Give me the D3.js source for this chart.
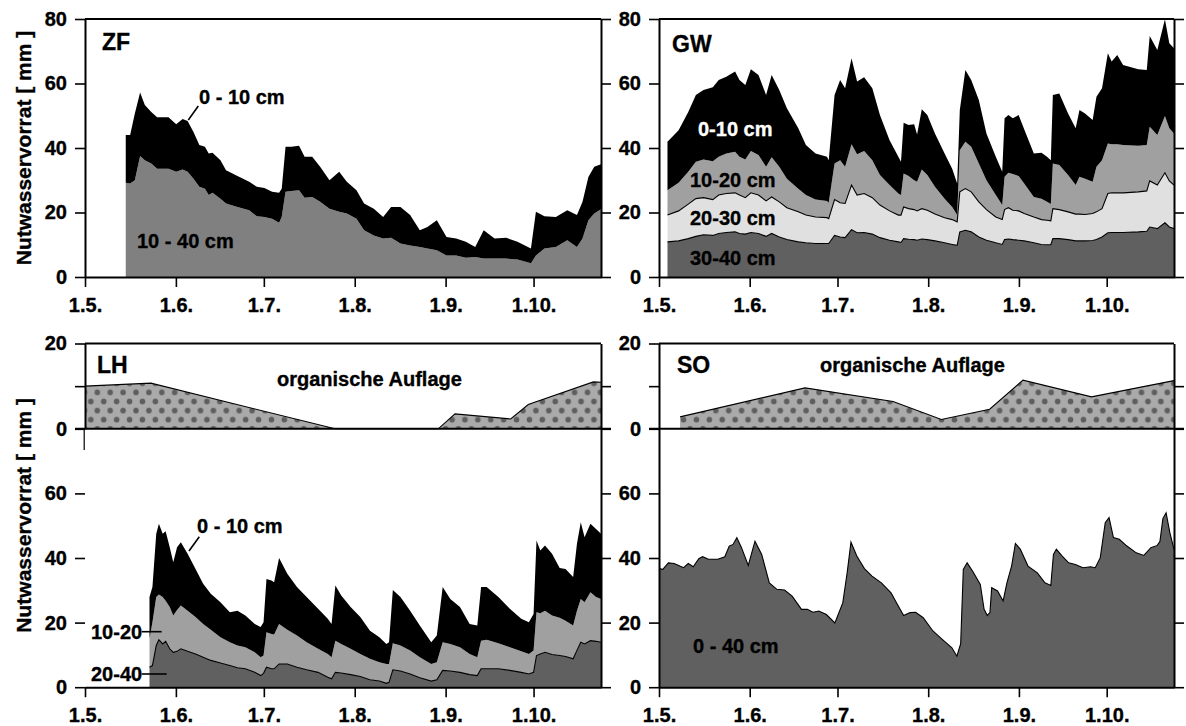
<!DOCTYPE html>
<html>
<head>
<meta charset="utf-8">
<script src="https://cdn.jsdelivr.net/npm/d3@7"></script>
<style>
  body { margin: 0; background: #fff; }
  text { font-family: "Liberation Sans", Arial, Helvetica, sans-serif; font-weight: bold; fill: #000;
         stroke: #000; stroke-width: 0.35px; paint-order: stroke; }
  text.white { fill: #fff; stroke: #fff; }
  .axis text { font-size: 20px; }
  .axis path, .axis line { stroke: #000; }
  .axis path { stroke-width: 2; }
  .axis line { stroke-width: 1.6; }
</style>
</head>
<body>
<div id="chart"></div>
<script>
// ==============================
// Data (days after 1 May, storage in mm, cumulative from the deepest layer)
// ==============================

// --- ZF ---
const zfDays = [13.9, 15.4, 17, 18.8, 20.4, 22.6, 24.6, 28.5, 31.1, 33.3, 35, 37, 39, 40.9, 42.2, 43.5, 46.2, 48.1, 52, 56,
  58.6, 61.2, 63.8, 66.2, 67.1, 68.4, 70.4, 73, 74.9, 77.5, 80.2, 83.4, 86.7, 89.3, 92.6, 95.2, 98.5, 101.7, 104.4, 107.6,
  110.9, 114.2, 116.8, 120, 123.3, 126.6, 129.9, 133.1, 136, 139.7, 143.6, 147.5, 152.1, 153.8, 156.7, 160.6, 164.5, 167.8, 169.7, 171.7,
  173.7, 176];
const zf0_40 = [44, 44, 50.7, 57.2, 53.3, 51.2, 49.5, 49.5, 47.4, 49, 48.4, 45, 40.9, 40.4, 38.3, 38.5, 36.2, 33.1, 31.3, 29.5,
  28, 27.6, 26.4, 26.1, 27.4, 40.4, 40.4, 40.7, 37.3, 37.3, 34.2, 30, 32.6, 29.5, 26.9, 22.8, 21.2, 18.6, 21.7, 21.7,
  19.2, 14.5, 15.5, 17.6, 12.4, 11.9, 10.9, 9.3, 14.5, 11.9, 12.2, 10.9, 8.8, 20.2, 18.8, 18.6, 20.7, 19.2, 23.3, 31,
  34.2, 35];
const zf10_40 = [29.2, 29, 30, 37.5, 36.2, 35.2, 33.6, 33.6, 32.6, 33.3, 32.6, 30.5, 28, 27.4, 25.4, 26.1, 24.3, 22.8, 21.7, 20.7,
  18.8, 18.6, 18.1, 16.8, 18.6, 26.4, 26.7, 26.9, 24.6, 24.8, 23.3, 21.2, 20.2, 19.7, 18.1, 14.5, 12.9, 11.9, 12.2, 10.4,
  9.8, 9.3, 8.8, 8.3, 6.7, 6.7, 6, 6.2, 5.7, 5.7, 5.7, 5.4, 4.3, 6.7, 8.8, 9.3, 11.4, 9.3, 11.9, 17.6,
  19.7, 21];

// --- GW ---
const gwDays = [2.9, 6.7, 10, 12.6, 15.2, 18.4, 20.4, 23, 26, 27.5, 29.5, 31.4, 34, 36.6, 38.5, 41.1, 43.7, 47.6, 50.2, 53.5,
  57.4, 58, 60, 61.9, 63.6, 65.8, 67.7, 70.1, 72.9, 75.5, 78.8, 81.8, 82.7, 83.6, 85.3, 87.2, 88.2, 89.8, 91.7, 94.3,
  97.6, 100.2, 101.9, 102.8, 104.7, 106.7, 109.3, 111.9, 115.1, 117.3, 118.1, 119.4, 120.9, 122.9, 124.8, 128.1, 130.7, 132.6, 133.9, 134.6,
  136.8, 139.8, 142.4, 143.7, 145.6, 148.2, 149.5, 151.4, 153.4, 154.7, 156.6, 158.6, 163.8, 166.7, 167.7, 170.3, 172.9, 174.4, 176];
const gw0_40 = [41.9, 45.5, 51.2, 56.4, 58, 58.8, 61.1, 62.1, 63.7, 61.1, 59.5, 64.4, 62.6, 56.4, 62.6, 58, 52.3, 46.1, 40.9, 38.3,
  37.3, 36.2, 56.4, 61.1, 58.5, 67.8, 60.6, 61.9, 58.5, 50.2, 42.4, 37.3, 35.7, 47.8, 47.1, 47.4, 44.2, 52, 50.2, 44.5,
  38.3, 33.6, 29, 51.8, 64.2, 61.1, 54.9, 44.5, 37.3, 32.6, 49.2, 50.2, 49.2, 50.2, 45.8, 38.3, 38.5, 37.3, 36.2, 56.4,
  56.9, 50.7, 46.1, 51.8, 50.7, 48.7, 55.9, 58.5, 69.4, 66.8, 68.8, 65.7, 64.4, 64.2, 74.7, 70.4, 79.9, 72.5, 70.9];
const gw10_40 = [26.9, 29.2, 32.6, 35.7, 36.4, 35.9, 37.3, 38.3, 38.8, 37.3, 36.4, 39.1, 37.8, 34.2, 37.1, 34.2, 30.5, 27.4, 25.4, 24,
  23.6, 23, 35.2, 36.2, 34.2, 41.2, 38.1, 39.1, 36.2, 31.6, 28.5, 25.9, 25.4, 32.1, 31.3, 30, 29.5, 33.3, 31.6, 28,
  24.3, 21.7, 19.2, 39.3, 41.9, 40.4, 35.2, 30, 25.4, 22.3, 31.1, 32.3, 31.9, 31.3, 29, 24.8, 24.3, 23.3, 22.6, 35.2,
  34.7, 31.6, 28.5, 31.1, 30.5, 29.5, 34.2, 36.2, 41.4, 41.2, 41.2, 40.9, 40.7, 40.9, 46.6, 44, 49.9, 46.1, 44.5];
const gw20_40 = [19.2, 20.5, 22.6, 24.3, 24.6, 24, 25.4, 25.9, 26.1, 25.4, 24.6, 26.1, 25.4, 23.6, 24.8, 23.3, 21.5, 20.2, 19.2, 18.6,
  18.4, 18.1, 24, 23, 22.8, 28.5, 25.4, 25.9, 24.6, 22.3, 20.5, 19.2, 19.2, 21.7, 21.2, 20.9, 20.5, 21.2, 20.7, 19.5,
  18.4, 17.8, 17.1, 26.4, 27.4, 26.4, 23.3, 20.9, 18.6, 17.8, 20.9, 21.5, 20.7, 20.5, 19.7, 18.6, 17.8, 17.6, 17.4, 21.2,
  20.9, 20.2, 19.5, 19.5, 19.4, 19.7, 20.2, 21.2, 25.9, 26.1, 26.1, 26.1, 26.4, 26.7, 29.8, 28.5, 32.3, 29.8, 28.5];
const gw30_40 = [10.9, 11.2, 11.9, 12.6, 13.1, 12.9, 13.5, 13.8, 14, 13.5, 13.3, 13.8, 13.5, 12.6, 13.5, 12.4, 11.6, 10.9, 10.6, 10.4,
  10.4, 10.4, 12.9, 12.4, 12.2, 14.7, 13.7, 13.8, 13.3, 12.2, 11.4, 10.9, 10.7, 11.9, 11.7, 11.6, 11.4, 11.8, 11.6, 11.2,
  10.6, 10.1, 9.8, 14, 14.5, 14, 12.4, 11.4, 10.6, 10.1, 11.6, 11.8, 11.6, 11.4, 11.2, 10.6, 10.1, 10, 10, 11.9,
  11.9, 11.6, 11.2, 11.2, 11.2, 11.3, 11.6, 12.4, 13.7, 13.8, 13.8, 13.8, 14, 14.2, 15.5, 15, 16.8, 15.5, 15];

// --- LH ---
const lhDays = [22, 23, 24.3, 25.2, 26.5, 27.5, 28.9, 30.1, 31.4, 32.7, 35, 37.7, 40.3, 42.9, 46.2, 49.4, 52, 54.7, 57.9, 59.9,
  60.9, 61.9, 63.6, 64.5, 66.2, 69, 72.3, 75.6, 79.5, 82.8, 84.1, 85.4, 87.4, 90.6, 93.9, 97.2, 100.4, 102.8, 103.7, 105,
  107.6, 110.9, 114.2, 118.1, 120, 122, 124.6, 127.9, 131.2, 133.8, 135.1, 137, 141, 144.9, 148.8, 151.4, 153, 154, 155.3, 156.9,
  159.3, 161.9, 163.9, 166.5, 167.8, 169.1, 170.4, 172.4, 174.3, 176];
const lh0_40 = [27.9, 31, 47.5, 50.6, 47.5, 48.3, 43.3, 38.7, 43.3, 44.9, 41.3, 36.6, 32, 28.9, 26.3, 23.2, 23.7, 22.2, 19.6, 18.6,
  20.1, 33.5, 33, 32.5, 40, 35.1, 31, 27.9, 24.3, 21.2, 19.6, 31.5, 28.4, 24.8, 21.7, 17.5, 15.5, 13.4, 13.9, 30.1,
  27.9, 23.7, 19.1, 13.9, 16, 31, 27.3, 24.8, 19.6, 19.1, 31, 31, 27.9, 24.3, 21.2, 20.1, 22.7, 45.4, 42.3, 43.9,
  41.3, 36.9, 36.6, 34.1, 44.4, 51.1, 46.4, 50.6, 49, 47.5];
const lh10_40 = [15, 20.1, 27.9, 28.7, 27.9, 26.8, 24.8, 22.2, 23.9, 25.3, 23.7, 21.7, 19.6, 17.8, 15.5, 13.9, 12.9, 12.4, 10.8, 9.3,
  9.8, 17, 16.5, 16.3, 19.6, 17.8, 16, 13.9, 11.9, 10.3, 9.3, 14.4, 13.4, 11.9, 10.3, 8.8, 7.7, 7.2, 7.2, 13.6,
  12.9, 11.4, 9.3, 7.2, 7.7, 13.9, 13.4, 12.4, 10.3, 9.3, 14.4, 14.7, 13.6, 12.4, 11.1, 10.3, 11.4, 23.2, 22.9, 23.7,
  22.2, 21.5, 20.6, 19.1, 23.7, 27.3, 26.3, 29.4, 27.9, 27.3];
const lh20_40 = [6.2, 6.7, 12.9, 14.7, 13.4, 14.2, 11.9, 10.8, 11.1, 11.9, 11.1, 10.3, 9.3, 8.3, 7.5, 6.7, 6, 5.7, 4.6, 3.6,
  4.3, 6.2, 5.7, 5.7, 7.2, 7.2, 6.2, 5.4, 4.6, 3.1, 2.6, 4.6, 4.4, 3.9, 3.3, 2.3, 1.9, 1.2, 1.5, 5.4,
  5, 4.1, 2.9, 1.9, 2.3, 5.2, 5, 4.6, 3.9, 3.6, 5.7, 5.7, 5.7, 5.2, 4.6, 4.1, 4.6, 9.8, 10.3, 10.8,
  10.1, 9.8, 9.5, 8.8, 11.4, 13.9, 13.4, 14.4, 14.2, 13.9];
const lhOrgDays = [0, 22.5, 85.3, 120.5, 126.2, 145.2, 151.2, 173.4, 176];
const lhOrg = [10, 10.7, 0, 0, 3.5, 2.3, 5.7, 11, 10.9];

// --- SO ---
const soDays = [0, 1.3, 3.2, 5.2, 7.1, 8.4, 10, 11.7, 13.6, 14.9, 16.9, 20.1, 22.5, 24, 25.3, 26.6, 28.2, 30.5, 32.8, 35.1,
  37.7, 40.3, 42.9, 45.5, 48.7, 50.7, 52.6, 54.6, 57.2, 60.1, 62.8, 64.3, 65.6, 67.6, 70.2, 72.8, 76, 79.3, 81.2, 83.6,
  85.8, 87.7, 90.3, 93.6, 96.8, 100.1, 101.8, 103.1, 104, 105.3, 107.2, 109.8, 111.1, 112.2, 113.1, 113.7, 115.7, 117.6, 118.9, 120.5,
  121.8, 123.5, 126.1, 129.3, 131.9, 133.9, 134.8, 135.8, 137.8, 140, 142.3, 144.9, 147.5, 149.1, 150.8, 152.5, 153.8, 155.3, 157.3, 159.9,
  163.1, 165.7, 168.1, 170.3, 171.2, 172.2, 173.3, 174.6, 176];
const so0_40 = [36.7, 36.5, 38.5, 38.3, 37.5, 37, 38.3, 37.3, 39.8, 40.4, 39.6, 39.6, 40.4, 43.7, 44.2, 46.3, 43.2, 37.7, 45.2, 41.1,
  32.3, 30.3, 30.1, 28.2, 24.1, 24.1, 23.2, 23.6, 22.5, 19.9, 26.1, 35.4, 44.9, 40.6, 36.7, 34.4, 32.3, 29.2, 26.1, 22.2,
  23.1, 23.2, 21.5, 17.4, 14.8, 12.2, 9.6, 13.5, 36.5, 38.5, 35.9, 31.8, 24.1, 22.2, 23.1, 30.8, 29.8, 26.7, 32.3, 37.5,
  44.5, 42.7, 37.5, 35.4, 32.3, 31.5, 41.1, 42.7, 40.6, 38.5, 38, 37, 37.3, 37, 40.1, 50.9, 52.5, 46.3, 45.8, 43.7,
  41.6, 40.8, 43.2, 43.9, 45.2, 52.2, 54, 47.8, 42.7];
const soOrgDays = [7.2, 49.9, 80, 96.5, 113, 124.4, 147.8, 176];
const soOrg = [2.8, 9.6, 6.4, 2.2, 4.6, 11.4, 7.5, 11.3];

const yTicksMain = [0, 20, 40, 60, 80];
const yTicksLower = [0, 20, 40, 60];
const yTicksOrg = [0, 10, 20];

// ==============================
// Setup
// ==============================
const width = 1186, height = 726;
const svg = d3.select("#chart").append("svg")
  .attr("width", width)
  .attr("height", height);

const t0 = Date.UTC(1999, 4, 1);
const toDate = d => new Date(t0 + d * 864e5);
const dateDomain = [toDate(0), toDate(176)];

const xLeft = d3.scaleUtc().domain(dateDomain).range([85, 601]);
const xRight = d3.scaleUtc().domain(dateDomain).range([659, 1174]);
const yTop = d3.scaleLinear().domain([0, 80]).range([277, 19]);
const yMain = d3.scaleLinear().domain([0, 80]).range([687.2, 428.8]);
const yOrg = d3.scaleLinear().domain([0, 20]).range([428.8, 343.5]);

const fmtDate = d3.utcFormat("%-d.%-m.");

// --- dotted pattern for the organic layer ---
const defs = svg.append("defs");
function dotPattern(id, x0) {
  const p = defs.append("pattern")
    .attr("id", id)
    .attr("patternUnits", "userSpaceOnUse")
    .attr("x", x0).attr("y", yOrg(0))
    .attr("width", 12.9).attr("height", 18.2);
  p.append("rect").attr("width", 12.9).attr("height", 18.2).attr("fill", "#aaaaaa");
  [[0, 0], [12.9, 0], [0, 18.2], [12.9, 18.2], [6.45, 9.1]].forEach(([cx, cy]) => {
    p.append("circle").attr("cx", cx).attr("cy", cy).attr("r", 2.8).attr("fill", "#5e5e5e");
  });
}
dotPattern("dotsLH", 97.3);
dotPattern("dotsSO", 690);

// --- helpers ---
function band(x, y, days, lo, hi, fill) {
  const area = d3.area()
    .x((d, i) => x(toDate(days[i])))
    .y0((d, i) => y(lo ? lo[i] : 0))
    .y1((d, i) => y(hi[i]));
  svg.append("path").datum(days).attr("d", area).attr("fill", fill);
}

function edge(x, y, days, vals, w = 1.1) {
  const line = d3.line()
    .x((d, i) => x(toDate(days[i])))
    .y((d, i) => y(vals[i]));
  svg.append("path").datum(days).attr("d", line)
    .attr("fill", "none").attr("stroke", "#000").attr("stroke-width", w);
}

function xAxis(x, y0) {
  svg.append("g").attr("class", "axis")
    .attr("transform", `translate(0,${y0})`)
    .call(d3.axisBottom(x).ticks(d3.utcMonth.every(1)).tickFormat(fmtDate)
      .tickSize(10).tickSizeOuter(0).tickPadding(11));
}

function yAxis(x0, y, vals, fmt) {
  return svg.append("g").attr("class", "axis")
    .attr("transform", `translate(${x0},0)`)
    .call(d3.axisLeft(y).tickValues(vals).tickFormat(fmt || (d => d))
      .tickSize(10).tickSizeOuter(0).tickPadding(8));
}

function yAxisRight(x0, y, vals) {
  return svg.append("g").attr("class", "axis")
    .attr("transform", `translate(${x0},0)`)
    .call(d3.axisRight(y).tickValues(vals).tickFormat(() => "")
      .tickSize(10).tickSizeOuter(0));
}

function hLine(x1, x2, y0) {
  svg.append("line").attr("x1", x1).attr("x2", x2).attr("y1", y0).attr("y2", y0)
    .attr("stroke", "#000").attr("stroke-width", 2);
}

function label(txt, x, y, size = 20, cls = null) {
  svg.append("text").attr("x", x).attr("y", y)
    .attr("class", cls)
    .attr("font-size", size).text(txt);
}

function leader(x1, y1, x2, y2) {
  svg.append("line").attr("x1", x1).attr("y1", y1).attr("x2", x2).attr("y2", y2)
    .attr("stroke", "#000").attr("stroke-width", 1.6);
}

function yTitle(cy) {
  svg.append("text")
    .attr("transform", `translate(31,${cy}) rotate(-90)`)
    .attr("text-anchor", "middle")
    .attr("font-size", 21)
    .text("Nutwasservorrat [ mm ]");
}

// ==============================
// ZF
// ==============================
band(xLeft, yTop, zfDays, null, zf10_40, "#808080");
band(xLeft, yTop, zfDays, zf10_40, zf0_40, "#000");

xAxis(xLeft, yTop(0));
yAxis(xLeft.range()[0], yTop, yTicksMain);
yAxisRight(xLeft.range()[1], yTop, yTicksMain);
hLine(xLeft.range()[0], xLeft.range()[1], yTop(80));

label("ZF", 102, 50, 23);
label("0 - 10 cm", 199, 104);
leader(198.3, 106, 188.3, 120);
label("10 - 40 cm", 137, 248);
yTitle((yTop(0) + yTop(80)) / 2);

// ==============================
// GW
// ==============================
band(xRight, yTop, gwDays, null, gw30_40, "#606060");
band(xRight, yTop, gwDays, gw30_40, gw20_40, "#e0e0e0");
band(xRight, yTop, gwDays, gw20_40, gw10_40, "#a0a0a0");
band(xRight, yTop, gwDays, gw10_40, gw0_40, "#000");
edge(xRight, yTop, gwDays, gw30_40);
edge(xRight, yTop, gwDays, gw20_40);

xAxis(xRight, yTop(0));
yAxis(xRight.range()[0], yTop, yTicksMain);
yAxisRight(xRight.range()[1], yTop, yTicksMain);
hLine(xRight.range()[0], xRight.range()[1], yTop(80));

label("GW", 672, 52, 23);
label("0-10 cm", 698, 136, 20, "white");
label("10-20 cm", 690, 187);
label("20-30 cm", 690, 225);
label("30-40 cm", 690, 265);

// ==============================
// LH
// ==============================
band(xLeft, yOrg, lhOrgDays, null, lhOrg, "url(#dotsLH)");
edge(xLeft, yOrg, lhOrgDays, lhOrg);

band(xLeft, yMain, lhDays, null, lh20_40, "#606060");
band(xLeft, yMain, lhDays, lh20_40, lh10_40, "#a0a0a0");
band(xLeft, yMain, lhDays, lh10_40, lh0_40, "#000");
edge(xLeft, yMain, lhDays, lh20_40);

xAxis(xLeft, yMain(0));
yAxis(xLeft.range()[0], yOrg, yTicksOrg, d => (d === 10 ? "" : d));
const lhMainAxis = yAxis(xLeft.range()[0], yMain, yTicksLower);
lhMainAxis.select(".domain").remove();
svg.append("line")
  .attr("x1", xLeft.range()[0] - 0.8).attr("x2", xLeft.range()[0] - 0.8)
  .attr("y1", yMain(80)).attr("y2", yMain(73.4))
  .attr("stroke", "#000").attr("stroke-width", 1.2);
yAxisRight(xLeft.range()[1], yOrg, [0, 10]);
yAxisRight(xLeft.range()[1], yMain, yTicksLower);
hLine(xLeft.range()[0] - 10, xLeft.range()[1] + 10, yOrg(0));
hLine(xLeft.range()[0], xLeft.range()[1], yOrg(20));

label("LH", 97, 373, 23);
label("organische Auflage", 277, 386);
label("0 - 10 cm", 197, 533);
leader(199.3, 536.7, 189, 551);
label("10-20", 91, 639);
leader(141.7, 631.7, 161.7, 631.7);
label("20-40", 91, 681);
leader(141.7, 674, 166.7, 674);
yTitle((yOrg(20) + yMain(0)) / 2);

// ==============================
// SO
// ==============================
band(xRight, yOrg, soOrgDays, null, soOrg, "url(#dotsSO)");
edge(xRight, yOrg, soOrgDays, soOrg);

band(xRight, yMain, soDays, null, so0_40, "#606060");
edge(xRight, yMain, soDays, so0_40);

xAxis(xRight, yMain(0));
yAxis(xRight.range()[0], yOrg, yTicksOrg, d => (d === 10 ? "" : d));
yAxis(xRight.range()[0], yMain, yTicksLower);
yAxisRight(xRight.range()[1], yOrg, [0, 10]);
yAxisRight(xRight.range()[1], yMain, yTicksLower);
hLine(xRight.range()[0] - 10, xRight.range()[1] + 10, yOrg(0));
hLine(xRight.range()[0], xRight.range()[1], yOrg(20));

label("SO", 677, 373, 23);
label("organische Auflage", 820, 372);
label("0 - 40 cm", 693, 653);
</script>
</body>
</html>
